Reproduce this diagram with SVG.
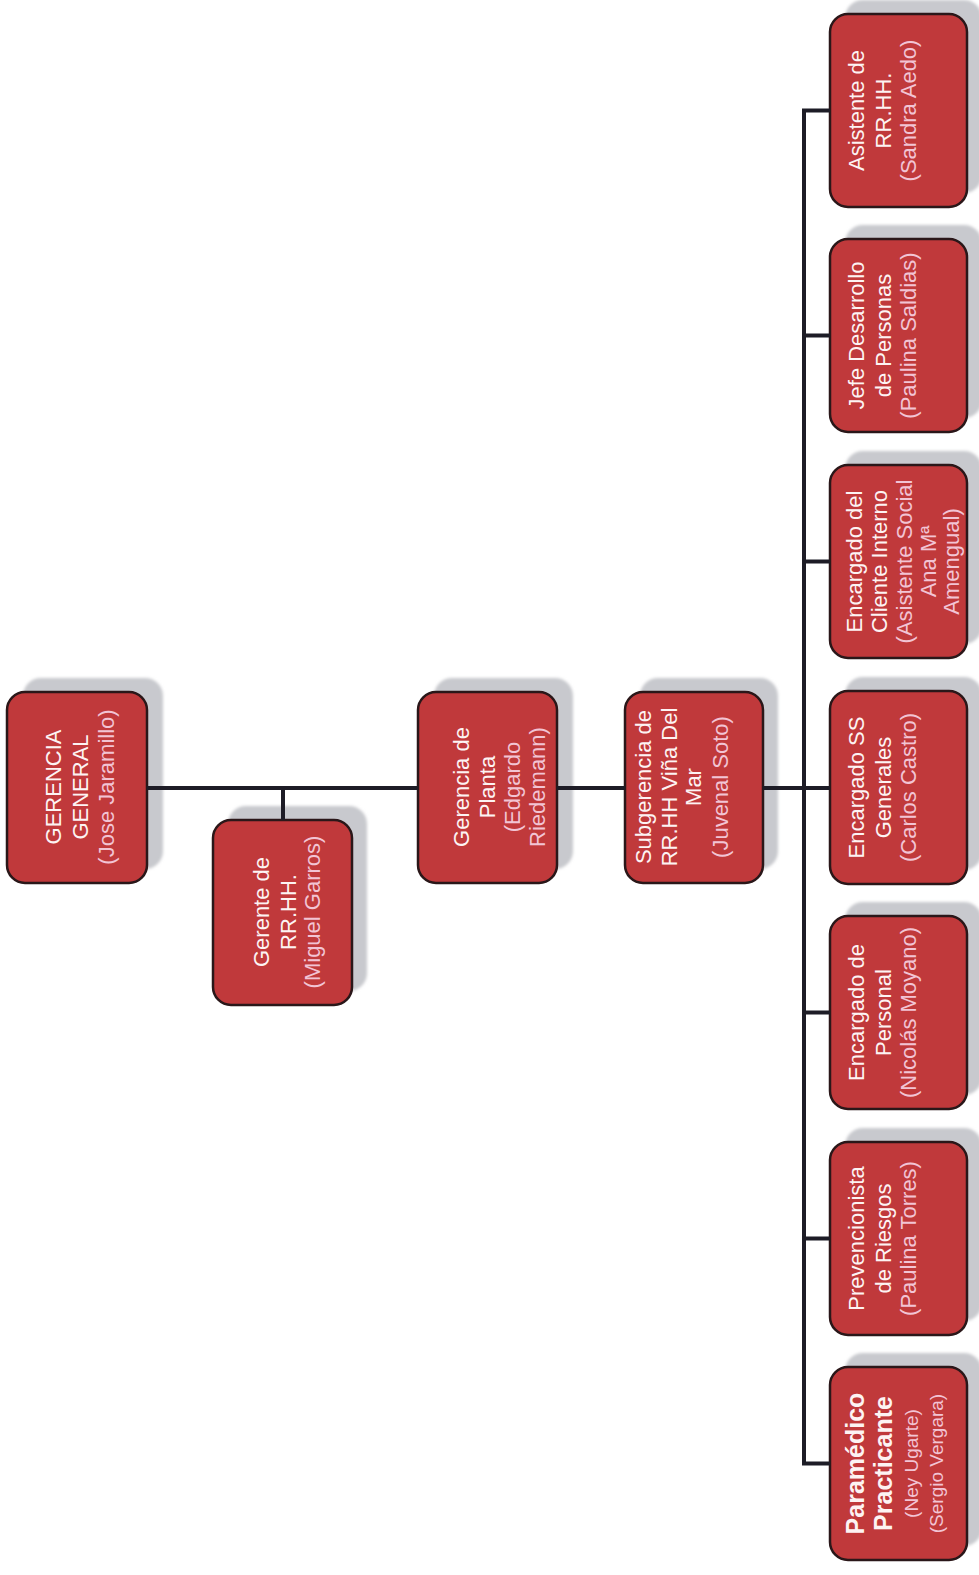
<svg xmlns="http://www.w3.org/2000/svg" width="979" height="1575" viewBox="0 0 979 1575">
<defs>
<filter id="soft" x="-10%" y="-10%" width="120%" height="120%"><feGaussianBlur stdDeviation="1.8"/></filter>
<style>
.shadow{fill:#c8c9ce;filter:url(#soft)}
.box{fill:#c0393b;stroke:#2a1719;stroke-width:2.5}
.t{font-family:"Liberation Sans",Arial,sans-serif;font-size:22px;fill:#fdf3f3;text-anchor:middle}
.n{fill:#f2c4d4}
.b{font-weight:bold;font-size:25px}
.s{font-size:19px}
.conn{stroke:#1d1c26;stroke-width:4;fill:none;stroke-linecap:butt}
</style>
</defs>
<rect width="979" height="1575" fill="#ffffff"/>

<g id="n-gerencia-general">
<rect class="shadow" x="23" y="678" width="140" height="191" rx="18"/>
<rect class="box" x="7" y="692" width="140" height="191" rx="18"/>
<text class="t" transform="translate(61,787) rotate(-90)">GERENCIA</text>
<text class="t" transform="translate(88,787) rotate(-90)">GENERAL</text>
<text class="t n" transform="translate(114,787) rotate(-90)">(Jose Jaramillo)</text>
</g>

<g id="n-gerente-rrhh">
<rect class="shadow" x="228" y="806" width="139" height="185" rx="18"/>
<rect class="box" x="213" y="820" width="139" height="185" rx="18"/>
<text class="t" transform="translate(269,912) rotate(-90)">Gerente de</text>
<text class="t" transform="translate(296,912) rotate(-90)">RR.HH.</text>
<text class="t n" transform="translate(320,912) rotate(-90)">(Miguel Garros)</text>
</g>

<g id="n-gerencia-planta">
<rect class="shadow" x="434" y="678" width="139" height="191" rx="18"/>
<rect class="box" x="418" y="692" width="139" height="191" rx="18"/>
<text class="t" transform="translate(469,787) rotate(-90)">Gerencia de</text>
<text class="t" transform="translate(495,787) rotate(-90)">Planta</text>
<text class="t n" transform="translate(520,787) rotate(-90)">(Edgardo</text>
<text class="t n" transform="translate(545,787) rotate(-90)">Riedemann)</text>
</g>

<g id="n-subgerencia">
<rect class="shadow" x="640" y="678" width="138" height="191" rx="18"/>
<rect class="box" x="625" y="692" width="138" height="191" rx="18"/>
<text class="t" transform="translate(651,787) rotate(-90)">Subgerencia de</text>
<text class="t" transform="translate(677,787) rotate(-90)">RR.HH Viña Del</text>
<text class="t" transform="translate(701,787) rotate(-90)">Mar</text>
<text class="t n" transform="translate(728,787) rotate(-90)">(Juvenal Soto)</text>
</g>

<g id="n-asistente">
<rect class="shadow" x="845" y="0" width="137" height="193" rx="18"/>
<rect class="box" x="830" y="14" width="137" height="193" rx="18"/>
<text class="t" transform="translate(864,110.5) rotate(-90)">Asistente de</text>
<text class="t" transform="translate(891,110.5) rotate(-90)">RR.HH.</text>
<text class="t n" transform="translate(916,110.5) rotate(-90)">(Sandra Aedo)</text>
</g>

<g id="n-jefe-desarrollo">
<rect class="shadow" x="845" y="225" width="137" height="193" rx="18"/>
<rect class="box" x="830" y="239" width="137" height="193" rx="18"/>
<text class="t" transform="translate(864,335.5) rotate(-90)">Jefe Desarrollo</text>
<text class="t" transform="translate(891,335.5) rotate(-90)">de Personas</text>
<text class="t n" transform="translate(916,335.5) rotate(-90)">(Paulina Saldias)</text>
</g>

<g id="n-cliente-interno">
<rect class="shadow" x="845" y="451" width="137" height="193" rx="18"/>
<rect class="box" x="830" y="465" width="137" height="193" rx="18"/>
<text class="t" transform="translate(862,561.5) rotate(-90)">Encargado del</text>
<text class="t" transform="translate(887,561.5) rotate(-90)">Cliente Interno</text>
<text class="t n" transform="translate(912,561.5) rotate(-90)">(Asistente Social</text>
<text class="t n" transform="translate(936,561.5) rotate(-90)">Ana Mª</text>
<text class="t n" transform="translate(959,561.5) rotate(-90)">Amengual)</text>
</g>

<g id="n-ss-generales">
<rect class="shadow" x="845" y="677" width="137" height="193" rx="18"/>
<rect class="box" x="830" y="691" width="137" height="193" rx="18"/>
<text class="t" transform="translate(864,787.5) rotate(-90)">Encargado SS</text>
<text class="t" transform="translate(891,787.5) rotate(-90)">Generales</text>
<text class="t n" transform="translate(916,787.5) rotate(-90)">(Carlos Castro)</text>
</g>

<g id="n-personal">
<rect class="shadow" x="845" y="902" width="137" height="193" rx="18"/>
<rect class="box" x="830" y="916" width="137" height="193" rx="18"/>
<text class="t" transform="translate(864,1012.5) rotate(-90)">Encargado de</text>
<text class="t" transform="translate(891,1012.5) rotate(-90)">Personal</text>
<text class="t n" transform="translate(916,1012.5) rotate(-90)">(Nicolás Moyano)</text>
</g>

<g id="n-prevencionista">
<rect class="shadow" x="845" y="1128" width="137" height="193" rx="18"/>
<rect class="box" x="830" y="1142" width="137" height="193" rx="18"/>
<text class="t" transform="translate(864,1238.5) rotate(-90)">Prevencionista</text>
<text class="t" transform="translate(891,1238.5) rotate(-90)">de Riesgos</text>
<text class="t n" transform="translate(916,1238.5) rotate(-90)">(Paulina Torres)</text>
</g>

<g id="n-paramedico">
<rect class="shadow" x="845" y="1353" width="137" height="193" rx="18"/>
<rect class="box" x="830" y="1367" width="137" height="193" rx="18"/>
<text class="t b" transform="translate(864,1463.5) rotate(-90)">Paramédico</text>
<text class="t b" transform="translate(892,1463.5) rotate(-90)">Practicante</text>
<text class="t n s" transform="translate(918,1463.5) rotate(-90)">(Ney Ugarte)</text>
<text class="t n s" transform="translate(943,1463.5) rotate(-90)">(Sergio Vergara)</text>
</g>

<g id="connectors">
<path class="conn" d="M147 788H418M557 788H625M763 788H830"/>
<path class="conn" d="M283 788V820"/>
<path class="conn" d="M804 110.5V1463.5"/>
<path class="conn" d="M802 110.5H830M802 335.5H830M802 561.5H830M802 1012.5H830M802 1238.5H830M802 1463.5H830"/>
</g>
</svg>
